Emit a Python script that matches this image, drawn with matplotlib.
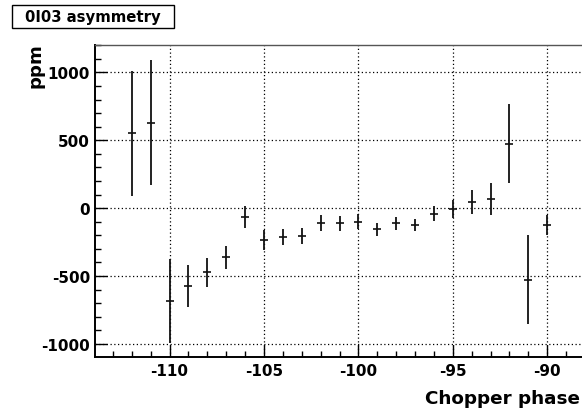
import numpy as np
import matplotlib as mpl
mpl.use('Agg')
import matplotlib.pyplot as plt
from matplotlib.patches import Rectangle

# chopper phase scan, asymmetry in ppm
phase = [-112, -111, -110, -109, -108, -107, -106, -105, -104, -103, -102, -101,
         -100, -99, -98, -97, -96, -95, -94, -93, -92, -91, -90]
asym = [552, 630, -685, -572, -472, -361, -66, -236, -212, -204, -111, -111,
        -99, -157, -111, -123, -40, -5, 46, 68, 476, -526, -123]
asym_err = [460, 463, 310, 157, 107, 86, 80, 72, 56, 57, 58, 57,
            53, 45, 47, 46, 57, 64, 90, 118, 288, 325, 76]

xticks = [-110, -105, -100, -95, -90]
yticks = [-1000, -500, 0, 500, 1000]

plt.rcParams['font.family'] = 'DejaVu Sans'
plt.rcParams['font.weight'] = 'bold'
plt.rcParams['axes.unicode_minus'] = False

W, H = 582, 410
fig = plt.figure(figsize=(W / 100, H / 100), dpi=100)
# axes in pixel coords: left 95, right 585 (past the edge), top 45.5, bottom 358.3
l, r, t, b = 95, 585, 45.5, 358.3
ax = fig.add_axes([l / W, 1 - b / H, (r - l) / W, (b - t) / H])

ax.errorbar(phase, asym, yerr=asym_err, fmt='_', color='#111111', ms=6, mew=1.2,
            elinewidth=1.3, capsize=0)

ax.set_xlim(-113.95, -88)
ax.set_ylim(-1098, 1205)
ax.set_xticks(xticks)
ax.set_yticks(yticks)
ax.set_xticks(np.arange(-113, -87), minor=True)
ax.set_yticks(np.arange(-1000, 1201, 100), minor=True)
ax.tick_params(which='both', direction='in', labelsize=11, width=1.0, color='black')
ax.tick_params(which='major', length=8.5, pad=4)
ax.tick_params(which='minor', length=4.3)
ax.tick_params(axis='y', pad=3.5)
ax.grid(True, which='major', color='black', linestyle=(0, (1, 2)), linewidth=0.9)

for side in ['left', 'bottom']:
    ax.spines[side].set_linewidth(1.4)
ax.spines['top'].set_color('#555555')
ax.spines['top'].set_linewidth(1.0)

fig.text(580 / W, 1 - 404 / H, 'Chopper phase', ha='right', va='baseline',
         fontsize=13.2, fontweight='bold')
fig.text(36 / W, 1 - 43.5 / H, 'ppm', ha='center', va='top', rotation=90,
         fontsize=13.1, fontweight='bold')

# title box
fig.add_artist(Rectangle((12 / W, 1 - 29.3 / H), 162 / W, 23.6 / H,
                         transform=fig.transFigure, fill=False,
                         edgecolor='black', linewidth=1.0))
fig.text(93 / W, 1 - 17.5 / H, '0I03 asymmetry', ha='center', va='center',
         fontsize=10.7, fontweight='bold')

fig.savefig('out.png', dpi=100)
